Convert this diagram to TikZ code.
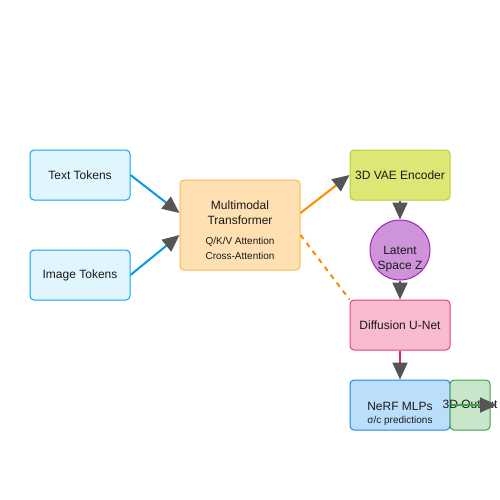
\documentclass[tikz,border=0pt]{standalone}
\usepackage{fontspec}
\setmainfont{Liberation Sans}
\usetikzlibrary{arrows.meta}
\definecolor{tokfill}{HTML}{E1F5FE}
\definecolor{tokline}{HTML}{03A9F4}
\definecolor{trfill}{HTML}{FFE0B2}
\definecolor{trline}{HTML}{FFB74D}
\definecolor{vaefill}{HTML}{DCE775}
\definecolor{vaeline}{HTML}{C0CA33}
\definecolor{latfill}{HTML}{CE93D8}
\definecolor{latline}{HTML}{9C27B0}
\definecolor{diffill}{HTML}{F8BBD0}
\definecolor{difline}{HTML}{EC407A}
\definecolor{nerffill}{HTML}{BBDEFB}
\definecolor{nerfline}{HTML}{1E88E5}
\definecolor{outfill}{HTML}{C8E6C9}
\definecolor{outline}{HTML}{43A047}
\definecolor{arrgray}{HTML}{555555}
\definecolor{eblue}{HTML}{039BE5}
\definecolor{eorange}{HTML}{FB8C00}
\definecolor{epink}{HTML}{E91E63}
\definecolor{txt}{HTML}{1A1A1A}
\tikzset{
  box/.style={draw, line width=1pt, rounded corners=4pt, minimum width=100pt, minimum height=50pt, inner sep=0pt, align=center, font=\fontsize{12}{14}\selectfont, text=txt},
  edge/.style={line width=2pt, -{Triangle[length=17pt,width=15pt,color=arrgray]}},
  small/.style={font=\fontsize{10}{12}\selectfont}
}
\begin{document}
\begin{tikzpicture}[x=1pt,y=-1pt]
\useasboundingbox (0,0) rectangle (500,500);
\fill[white] (0,0) rectangle (500,500);
\node[box, fill=tokfill, draw=tokline] (tt) at (80,175) {Text Tokens};
\node[box, fill=tokfill, draw=tokline] (it) at (80,275) {Image Tokens};
\node[box, fill=trfill, draw=trline, minimum width=120pt, minimum height=90pt] (tr) at (240,225) {};
\node[text=txt, align=center, font=\fontsize{12}{15}\selectfont] (trt) at (240,213) {Multimodal\\Transformer};
\node[text=txt, align=center, font=\fontsize{10}{15}\selectfont] (trs) at (240,248.5) {Q/K/V Attention\\Cross-Attention};
\node[box, fill=vaefill, draw=vaeline] (vae) at (400,175) {3D VAE Encoder};
\node[circle, draw=latline, fill=latfill, line width=1pt, minimum size=60pt, inner sep=0pt] (lat) at (400,250) {};
\node[text=txt, align=center, font=\fontsize{12}{15.5}\selectfont] (latt) at (400,259) {Latent\\Space Z};
\node[box, fill=diffill, draw=difline] (dif) at (400,325) {Diffusion U-Net};
\node[box, fill=nerffill, draw=nerfline] (nerf) at (400,405) {};
\node[box, fill=outfill, draw=outline, minimum width=40pt] (out) at (470,405) {};
\node[text=txt, align=center, font=\fontsize{12}{14}\selectfont] (nerft) at (400,406) {NeRF MLPs};
\node[text=txt, small] (nerfs) at (400,421) {σ/c predictions};
\node[text=txt, font=\fontsize{12}{14}\selectfont] (outt) at (470,406) {3D Output};
\coordinate (outtip) at (497,405);
\draw[edge, eblue] (tt.east) -- ([yshift=12pt]tr.west);
\draw[edge, eblue] (it.east) -- ([yshift=-10pt]tr.west);
\draw[edge, eorange] ([yshift=12pt]tr.east) -- (vae.west);
\draw[line width=2pt, eorange, dash pattern=on 5pt off 5pt] ([yshift=-10pt]tr.east) -- (dif.north west);
\draw[edge, latline] (vae.south) -- (lat.north);
\draw[edge, latline] (lat.south) -- (dif.north);
\draw[edge, epink] (dif.south) -- (nerf.north);
\draw[edge, outline] (nerf.east) -- (outtip);
\end{tikzpicture}
\end{document}
